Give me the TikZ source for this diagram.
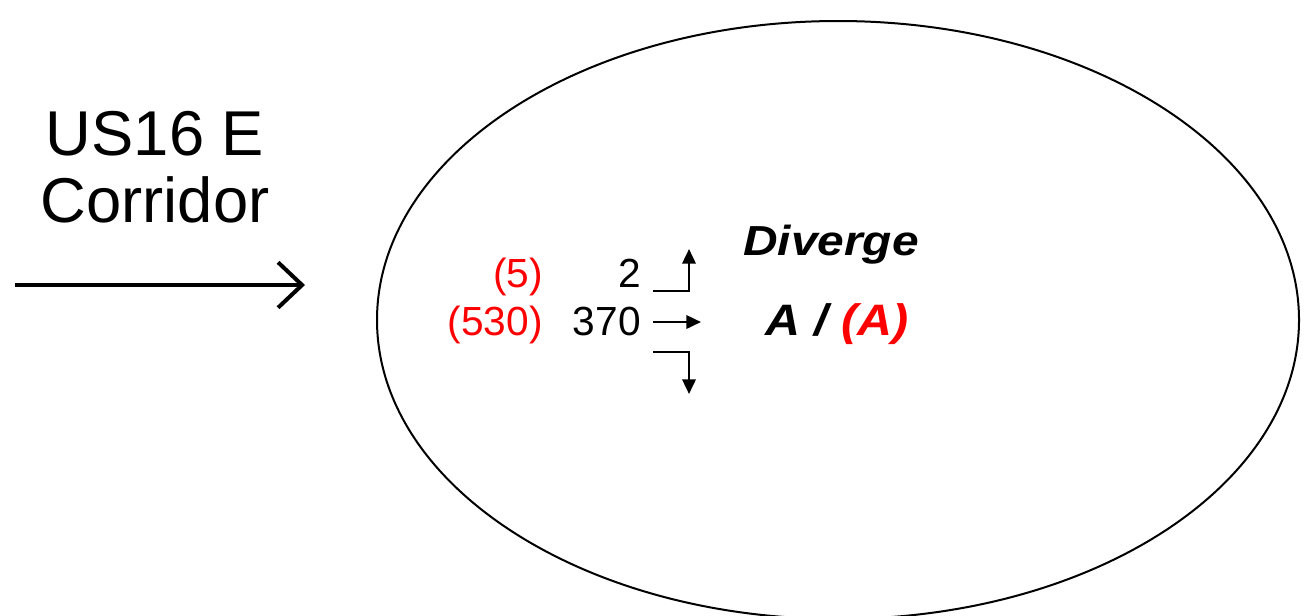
\documentclass[tikz,border=0pt]{standalone}
\usepackage{fontspec}
\setmainfont{Liberation Sans}
\newfontfamily\widesans[FakeStretch=1.14]{Liberation Sans}
\newfontfamily\widersans[FakeStretch=1.1]{Liberation Sans}
\usetikzlibrary{arrows.meta,shapes.geometric}
\definecolor{myred}{RGB}{255,0,0}
\tikzset{
  big/.style={font=\fontsize{47.5}{56}\selectfont, inner sep=0pt},
  num/.style={font=\fontsize{30.5}{36}\selectfont, inner sep=0pt},
  lab/.style={font=\widesans\fontsize{31.5}{36}\selectfont\bfseries\itshape, inner sep=0pt},
  labb/.style={font=\widersans\fontsize{33}{38}\selectfont\bfseries\itshape, inner sep=0pt},
  mv/.style={line width=1.9pt, -{Triangle[length=11pt,width=10pt]}},
}
\begin{document}
\begin{tikzpicture}[x=0.75pt,y=-0.75pt]
\useasboundingbox (0,0) rectangle (1308,615);
\begin{scope}
\clip (0,0) rectangle (1308,615);
\node[draw, line width=1.5pt, ellipse, minimum width=922*0.75pt, minimum height=598*0.75pt, inner sep=0pt] (zone) at (838,320) {};
\end{scope}
\node[big, anchor=base] (t1) at (155,155) {US16 E};
\node[big, anchor=base] (t2) at (155,222) {Corridor};
\coordinate (a0) at (15,285);
\coordinate (a1) at (305,285);
\draw[line width=3pt, -{Straight Barb[length=18pt,width=34pt,line width=3pt]}] (a0) -- (a1);
\node[num, anchor=base east, text=myred] (r1) at (543,287) {(5)};
\node[num, anchor=base east] (b1) at (641,287) {2};
\node[num, anchor=base east, text=myred] (r2) at (543,335) {(530)};
\node[num, anchor=base east] (b2) at (641,335) {370};
\coordinate (l0) at (653,291);
\coordinate (l1) at (689,291);
\coordinate (l2) at (689,249);
\coordinate (h0) at (653,322);
\coordinate (h1) at (701,322);
\coordinate (d0) at (653,352);
\coordinate (d1) at (689,352);
\coordinate (d2) at (689,394);
\draw[mv] (l0) -- (l1) -- (l2);
\draw[mv] (h0) -- (h1);
\draw[mv] (d0) -- (d1) -- (d2);
\node[lab, anchor=base] (dv) at (831,255) {Diverge};
\node[labb, anchor=base] (los) at (837,335) {A / \textcolor{myred}{(A)}};
\end{tikzpicture}
\end{document}
